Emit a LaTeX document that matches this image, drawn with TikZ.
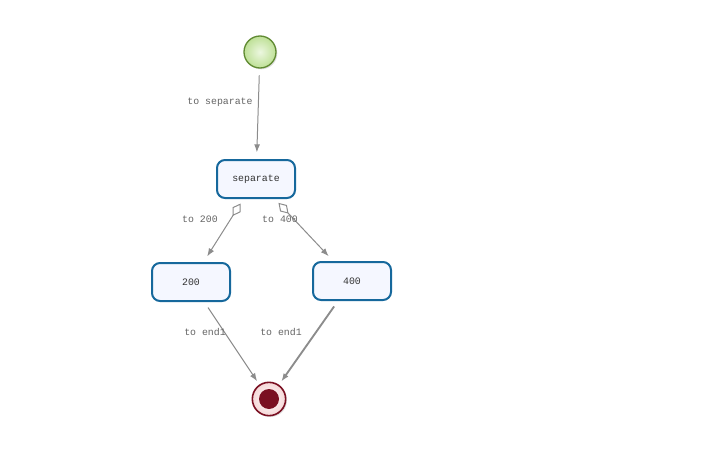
\documentclass[tikz,border=0pt]{standalone}
\usepackage{fontspec}
\setmonofont{Liberation Mono}
\usepackage{xcolor}
\usepackage{tikz}
\usetikzlibrary{arrows.meta,positioning,shadows}
\definecolor{wfBlue}{RGB}{22,104,156}
\definecolor{wfLightBlue}{RGB}{245,247,255}
\definecolor{wfGreen}{RGB}{96,138,50}
\definecolor{wfLightGreen}{RGB}{236,247,224}
\definecolor{wfMidGreen}{RGB}{190,224,150}
\definecolor{wfRed}{RGB}{122,16,34}
\definecolor{wfLightRed}{RGB}{245,215,215}
\definecolor{wfLine}{RGB}{140,140,140}
\definecolor{wfText}{RGB}{100,100,100}

\begin{document}
\begin{tikzpicture}[>={Latex[length=6pt,width=4.5pt]}, x=0.75pt, y=-0.75pt, font=\ttfamily\fontsize{7.4}{9}\selectfont]
\tikzstyle{task}=[draw=wfBlue, line width=1.5pt, rounded corners=6pt, fill=wfLightBlue, minimum width=58.5pt, minimum height=28.5pt, inner sep=2pt, text=black!80]
\tikzstyle{startev}=[circle, draw=wfGreen, line width=1pt, inner color=wfLightGreen, outer color=wfMidGreen, minimum size=24pt, inner sep=0pt, drop shadow={opacity=0.25, shadow xshift=1pt, shadow yshift=-1pt}]
\tikzstyle{endev}=[circle, draw=wfRed, line width=1.2pt, inner color=white, outer color=wfLightRed, minimum size=25pt, inner sep=0pt, drop shadow={opacity=0.25, shadow xshift=1pt, shadow yshift=-1pt}]
\tikzstyle{flow}=[->, draw=wfLine, line width=0.75pt]
\tikzstyle{lbl}=[text=wfText, inner sep=0pt]

\useasboundingbox (0,0) rectangle (714,453);

\node[startev] (start) at (260,52) {};
\node[task] (separate) at (256,179) {separate};
\node[task] (t200) at (191,282) {200};
\node[task] (t400) at (352,281) {400};
\node[endev] (end) at (269,399) {};
\fill[wfRed] (end.center) circle (7.5pt);

\draw[flow, shorten <=5pt, shorten >=5pt] (start) -- (separate);
\draw[flow, {Diamond[open,length=11pt,width=7pt]}->, shorten <=4pt, shorten >=5pt] (separate) -- (t200);
\draw[flow, {Diamond[open,length=11pt,width=7pt]}->, shorten <=4pt, shorten >=5pt] (separate) -- (t400);
\draw[flow, shorten <=5pt, shorten >=3pt] (t200) -- (end);
\draw[flow, line width=1.4pt, shorten <=5pt, shorten >=3pt] (t400) -- (end);

\node[lbl] (lsep) at (220,102) {to separate};
\node[lbl] (l200) at (200,219) {to 200};
\node[lbl] (l400) at (280,219) {to 400};
\node[lbl] (lend1) at (205,332) {to end1};
\node[lbl] (lend2) at (281,332) {to end1};
\end{tikzpicture}
\end{document}
